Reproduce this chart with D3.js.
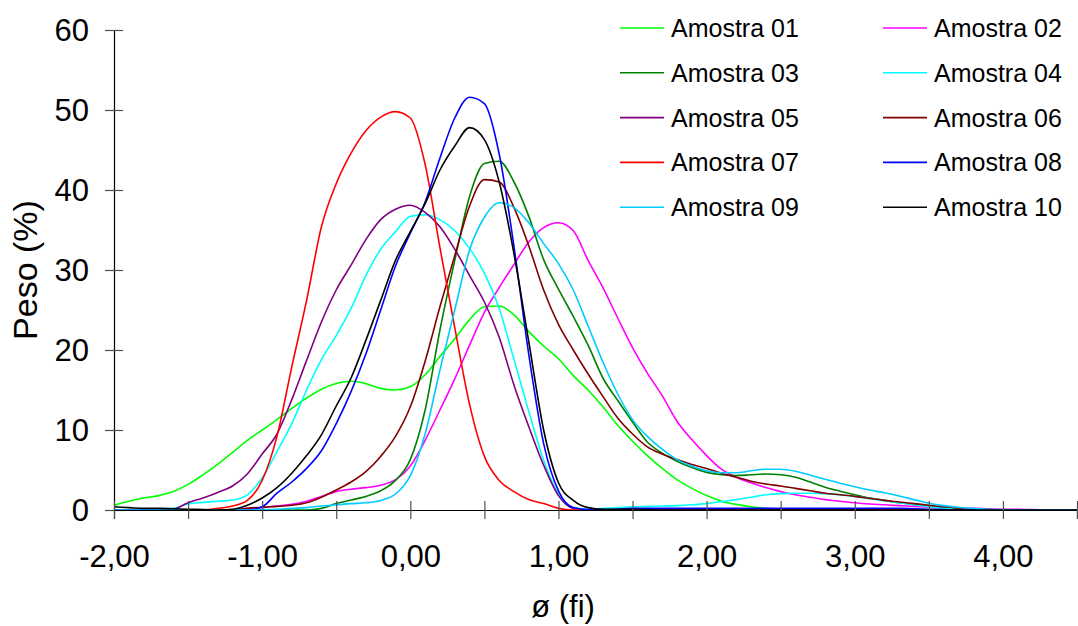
<!DOCTYPE html>
<html>
<head>
<meta charset="utf-8">
<script src="https://cdn.jsdelivr.net/npm/d3@7"></script>
<style>
  html, body { margin: 0; padding: 0; background: #fff; }
  svg { display: block; font-family: "Liberation Sans", Arial, sans-serif; }
</style>
</head>
<body>
<svg id="chart" width="1078" height="626"></svg>
<script>
// ---- Data ----
const phi = [-2.0,-1.9,-1.8,-1.7,-1.6,-1.5,-1.4,-1.3,-1.2,-1.1,
             -1.0,-0.9,-0.8,-0.7,-0.6,-0.5,-0.4,-0.3,-0.2,-0.1,
              0.0, 0.1, 0.2, 0.3, 0.4, 0.5, 0.6, 0.7, 0.8, 0.9,
              1.0, 1.1, 1.2, 1.3, 1.4, 1.5, 1.6, 1.7, 1.8, 1.9,
              2.0, 2.1, 2.2, 2.3, 2.4, 2.5, 2.6, 2.7, 2.8, 2.9,
              3.0, 3.1, 3.2, 3.3, 3.4, 3.5, 3.6, 3.7, 3.8, 3.9,
              4.0, 4.1, 4.2, 4.3, 4.4, 4.5];

const seriesNames = ["Amostra 01","Amostra 02","Amostra 03","Amostra 04","Amostra 05",
                     "Amostra 06","Amostra 07","Amostra 08","Amostra 09","Amostra 10"];

const amostra01 = [0.6,1.1,1.5,1.8,2.3,3.2,4.4,5.7,7.2,8.7,
                   10.0,11.3,12.7,14.0,15.1,15.8,16.1,15.8,15.2,15.0,
                   15.4,16.9,19.2,21.4,23.8,25.4,25.5,24.4,22.3,20.5,
                   18.9,16.8,15.0,12.9,10.6,8.6,6.8,5.2,3.8,2.7,
                   1.8,1.1,0.7,0.4,0.2,0.1,0,0,0,0,
                   0,0,0,0,0,0,0,0,0,0,
                   0,0,0,0,0,0];
const amostra02 = [0,0,0,0,0,0,0,0,0,0.2,
                   0.3,0.5,0.7,1.1,1.7,2.3,2.6,2.8,3.1,3.8,
                   5.5,8.7,12.5,16.4,20.6,24.7,27.8,30.7,33.5,35.3,
                   35.9,34.9,31.2,27.8,24.0,20.3,17.1,14.3,11.1,8.8,
                   6.8,5.1,4.1,3.4,2.8,2.3,1.9,1.6,1.3,1.1,
                   0.9,0.75,0.65,0.55,0.45,0.35,0.3,0.25,0.2,0.15,
                   0.1,0.08,0.05,0.03,0.02,0];
const amostra03 = [0,0,0,0,0,0,0,0,0,0,
                   0,0,0,0,0.2,0.8,1.25,1.7,2.4,3.7,
                   6.3,12.5,22.5,31.2,39.2,43.3,43.6,41.0,36.7,31.3,
                   27.6,24.2,20.6,16.5,13.7,11.0,8.5,7.1,6.1,5.3,
                   4.7,4.4,4.3,4.4,4.5,4.4,4.1,3.5,2.85,2.35,
                   1.9,1.5,1.2,0.9,0.7,0.5,0.3,0.15,0.05,0,
                   0,0,0,0,0,0];
const amostra04 = [0,0,0,0,0.2,0.75,0.95,1.1,1.25,1.9,
                   4.0,7.3,10.8,15.0,18.8,21.8,25.2,29.3,32.6,34.8,
                   36.7,36.9,36.3,34.9,32.7,29.6,25.2,18.8,12.3,6.2,
                   2.0,0.3,0.1,0.2,0.3,0.4,0.45,0.5,0.55,0.65,
                   0.8,1.05,1.3,1.6,1.9,2.05,2.1,2.1,2.05,1.9,
                   1.7,1.45,1.15,0.9,0.65,0.4,0.2,0.1,0,0,
                   0,0,0,0,0,0];
const amostra05 = [0,0,0,0,0.1,0.9,1.5,2.2,3.0,4.5,
                   7.0,9.5,13.8,18.7,23.5,27.5,30.6,33.8,36.3,37.6,
                   38.1,37.2,35.4,32.6,29.3,26.0,21.6,15.6,10.4,5.6,
                   1.8,0.2,0,0,0,0,0,0,0,0,
                   0,0,0,0,0,0,0,0,0,0,
                   0,0,0,0,0,0,0,0,0,0,
                   0,0,0,0,0,0];
const amostra06 = [0,0,0,0,0,0,0,0,0,0.2,
                   0.35,0.45,0.6,0.9,1.6,2.5,3.5,4.8,6.7,9.2,
                   12.9,18.6,25.4,31.8,38.0,41.3,41.0,37.8,33.0,27.5,
                   23.2,20.0,17.0,14.2,11.5,9.5,7.9,7.0,6.3,5.7,
                   5.2,4.6,4.1,3.6,3.25,3.0,2.7,2.4,2.1,1.9,
                   1.7,1.45,1.2,1.0,0.8,0.6,0.4,0.25,0.1,0.05,
                   0,0,0,0,0,0];
const amostra07 = [0,0,0,0,0,0,0,0.2,0.5,1.2,
                   3.7,9.2,17.9,26.2,35.4,40.8,44.6,47.4,49.1,49.8,
                   49.0,43.2,32.8,22.8,13.2,6.7,3.7,2.3,1.3,0.8,
                   0.2,0,0,0,0,0,0,0,0,0,
                   0,0,0,0,0,0,0,0,0,0,
                   0,0,0,0,0,0,0,0,0,0,
                   0,0,0,0,0,0];
const amostra08 = [0,0,0,0,0,0,0,0,0,0,
                   0.4,2.1,3.5,5.2,7.4,10.8,14.8,19.5,25.0,30.5,
                   34.6,38.5,44.0,49.0,51.6,50.8,44.5,32.9,19.4,8.3,
                   2.4,0.3,0.05,0.05,0.1,0.2,0.2,0.2,0.2,0.2,
                   0.2,0.2,0.2,0.2,0.2,0.2,0.2,0.2,0.2,0.2,
                   0.2,0.2,0.2,0.2,0.15,0.1,0.05,0,0,0,
                   0,0,0,0,0,0];
const amostra09 = [0,0,0,0,0,0,0,0,0,0,
                   0.05,0.1,0.2,0.3,0.5,0.65,0.8,0.9,1.2,2.0,
                   4.3,9.5,17.5,25.0,32.5,36.6,38.4,37.8,35.9,33.3,
                   30.8,27.5,23.0,18.5,14.5,11.3,9.2,7.6,6.3,5.5,
                   4.9,4.65,4.65,4.9,5.1,5.1,4.85,4.35,3.85,3.35,
                   2.9,2.5,2.15,1.75,1.3,0.85,0.55,0.35,0.2,0.1,
                   0.05,0,0,0,0,0];
const amostra10 = [0.4,0.3,0.2,0.2,0.15,0.1,0.05,0,0.1,0.6,
                   1.5,2.8,4.6,6.8,9.4,13.0,16.5,21.2,26.2,31.2,
                   34.8,38.3,42.5,45.5,47.8,46.3,41.0,32.0,21.0,10.0,
                   3.4,1.2,0.3,0.1,0.1,0.1,0.05,0,0,0,
                   0,0,0,0,0,0,0,0,0,0,
                   0,0,0,0,0,0,0,0,0,0,
                   0,0,0,0,0,0];

const seriesValues = [amostra01, amostra02, amostra03, amostra04, amostra05,
                      amostra06, amostra07, amostra08, amostra09, amostra10];
const seriesColors = ["#00FF00","#FF00FF","#008000","#00FFFF","#800080",
                      "#800000","#FF0000","#0000FF","#00CCFF","#000000"];

const xTicks = [-2,-1.5,-1,-0.5,0,0.5,1,1.5,2,2.5,3,3.5,4,4.5];
const xLabelTicks = [-2,-1,0,1,2,3,4];
const yTicks = [0,10,20,30,40,50,60];

// ---- Layout ----
const svg = d3.select("#chart");
const plotLeft = 114, plotRight = 1077, plotTop = 30, plotBottom = 510;

const x = d3.scaleLinear().domain([-2, 4.5]).range([plotLeft, plotRight]);
const y = d3.scaleLinear().domain([0, 60]).range([plotBottom, plotTop]);

const fmt = v => v.toFixed(2).replace(".", ",");

// Series lines
const line = d3.line()
  .x((d, i) => x(phi[i]))
  .y(d => y(d))
  .curve(d3.curveMonotoneX);

const g = svg.append("g");
seriesValues.forEach((vals, k) => {
  g.append("path")
    .datum(vals)
    .attr("fill", "none")
    .attr("stroke", seriesColors[k])
    .attr("stroke-width", 1.6)
    .attr("stroke-linejoin", "round")
    .attr("d", line);
});

// Y axis
const yAxis = d3.axisLeft(y).tickValues(yTicks).tickSize(9).tickPadding(16).tickFormat(d3.format("d"));
const gy = svg.append("g").attr("transform", `translate(${plotLeft},0)`).call(yAxis);
gy.select(".domain").attr("stroke", "#000").attr("stroke-width", 1.2);
gy.selectAll(".tick line").attr("x1", 9).attr("stroke", "#505050").attr("stroke-width", 1.2);
gy.selectAll(".tick text")
  .attr("font-size", 31).attr("fill", "#000")
  .attr("font-family", "Liberation Sans, Arial, sans-serif")
  .attr("x", -25).attr("dy", "0.35em");

// X axis
const xAxis = d3.axisBottom(x).tickValues(xTicks).tickSize(9).tickPadding(10)
  .tickFormat(d => xLabelTicks.includes(d) ? fmt(d) : "");
const gx = svg.append("g").attr("transform", `translate(0,${plotBottom})`).call(xAxis);
gx.select(".domain").attr("stroke", "#000").attr("stroke-width", 1.2);
gx.selectAll(".tick line").attr("y1", -9).attr("stroke", "#505050").attr("stroke-width", 1.2);
gx.selectAll(".tick text")
  .attr("font-size", 31).attr("fill", "#000")
  .attr("font-family", "Liberation Sans, Arial, sans-serif")
  .attr("y", 57).attr("dy", 0);

// Axis titles
svg.append("text")
  .attr("x", 563).attr("y", 617)
  .attr("text-anchor", "middle")
  .attr("font-size", 31)
  .attr("fill", "#000")
  .text("ø (fi)");

svg.append("text")
  .attr("transform", "translate(37,270) rotate(-90)")
  .attr("text-anchor", "middle")
  .attr("font-size", 34)
  .attr("fill", "#000")
  .text("Peso (%)");

// Legend
const legend = svg.append("g");
seriesNames.forEach((name, k) => {
  const col = k % 2, row = Math.floor(k / 2);
  const lx = col === 0 ? 620 : 883;
  const ly = 28 + row * 44.8;
  legend.append("line")
    .attr("x1", lx).attr("x2", lx + 44)
    .attr("y1", ly).attr("y2", ly)
    .attr("stroke", seriesColors[k]).attr("stroke-width", 1.6);
  legend.append("text")
    .attr("x", lx + 51).attr("y", ly)
    .attr("dy", "0.36em")
    .attr("font-size", 25)
    .attr("fill", "#000")
    .text(name);
});
</script>
</body>
</html>
